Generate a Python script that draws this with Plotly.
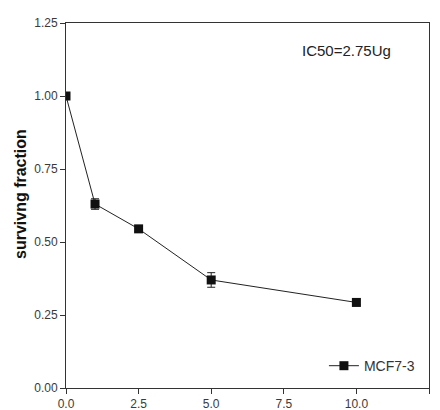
import plotly.graph_objects as go

dose = [0, 1, 2.5, 5, 10]
surviving = [1.00, 0.63, 0.545, 0.37, 0.293]
err = [0.005, 0.018, 0.01, 0.025, 0.008]
x_ticks = [0, 2.5, 5, 7.5, 10, 12.5]
x_tick_labels = ["0.0", "2.5", "5.0", "7.5", "10.0", "12.5"]
y_ticks = [0, 0.25, 0.5, 0.75, 1.0, 1.25]
y_tick_labels = ["0.00", "0.25", "0.50", "0.75", "1.00", "1.25"]

fig = go.Figure()
fig.add_trace(go.Scatter(
    x=dose, y=surviving, name="MCF7-3", mode="lines+markers",
    line=dict(color="#222", width=1),
    marker=dict(symbol="square", size=9, color="#111"),
    error_y=dict(type="data", array=err, color="#222", thickness=1, width=4),
))
fig.update_layout(
    width=440, height=410,
    margin=dict(l=66, r=11, t=23, b=22),
    paper_bgcolor="white", plot_bgcolor="white",
    font=dict(family="Liberation Sans, Arial, sans-serif", color="#3a3a3a", size=12),
    showlegend=True,
    legend=dict(x=0.975, y=0.06, xanchor="right", yanchor="middle",
                bgcolor="rgba(0,0,0,0)", font=dict(size=14, color="#333"),
                itemwidth=30),
    annotations=[
        dict(x=0.90, y=0.926, xref="paper", yref="paper",
             text="IC50=2.75Ug", showarrow=False,
             xanchor="right", yanchor="middle",
             font=dict(size=15, color="#222")),
        dict(x=-46 / 363, y=(388 - 194) / 365, xref="paper", yref="paper",
             text="<b>survivng fraction</b>", showarrow=False, textangle=-90,
             xanchor="center", yanchor="middle",
             font=dict(size=16, color="#111")),
    ],
)
fig.update_xaxes(range=[0, 12.5], tickvals=x_ticks, ticktext=x_tick_labels,
                 showgrid=False, zeroline=False, showline=True, mirror=True,
                 linecolor="#333", linewidth=1, ticks="outside", ticklen=5,
                 tickcolor="#333", automargin=False)
fig.update_yaxes(range=[0, 1.25], tickvals=y_ticks, ticktext=y_tick_labels,
                 showgrid=False, zeroline=False, showline=True, mirror=True,
                 linecolor="#333", linewidth=1, ticks="outside", ticklen=5,
                 tickcolor="#333", automargin=False)
fig.write_html("out.html", config={"displayModeBar": False},
               post_script="document.body.style.margin='0';")
